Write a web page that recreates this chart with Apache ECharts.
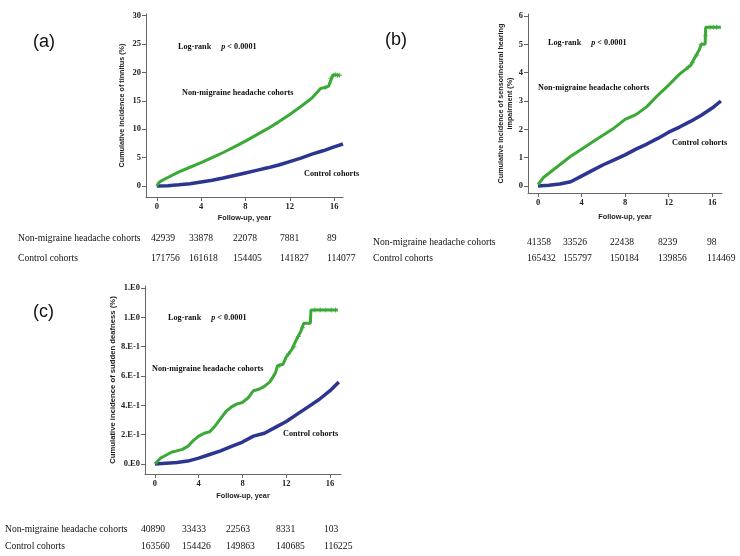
<!DOCTYPE html>
<html><head><meta charset="utf-8">
<script src="https://cdn.jsdelivr.net/npm/echarts@6/dist/echarts.min.js"></script>
<style>html,body{margin:0;padding:0;background:#fff}#c{width:740px;height:556px}</style>
</head><body><div id="c"></div>
<script>
// ---------- data ----------
const xTicks = [0, 4, 8, 12, 16];
// (a) tinnitus
const timeA_nm = [0,0.2,0.5,1,2,3,4,5,6,7,8,9,10,11,12,13,14,14.8,15.3,15.5,15.9,16,16.5];
const incA_nm  = [0,0.6,1.0,1.5,2.5,3.3,4.1,5.0,5.9,6.9,7.9,9.0,10.1,11.3,12.6,14.0,15.5,17.2,17.4,17.6,19.6,19.6,19.5];
const timeA_ct = [0,1,2,3,4,5,6,7,8,9,10,11,12,13,14,15,16,16.8];
const incA_ct  = [0,0.05,0.2,0.4,0.7,1.0,1.4,1.85,2.3,2.75,3.2,3.7,4.3,4.9,5.6,6.2,6.9,7.4];
const censA_t = [15.2,15.7,16.1,16.3,16.5];
const censA_v = [17.4,19.0,19.6,19.5,19.5];
const yTicksA = [0,5,10,15,20,25,30];
// (b) sensorineural hearing impairment
const timeB_nm = [0,0.5,1,2,3,4,5,6,7,8,9,10,11,12,13,14,14.5,14.8,15.0,15.35,15.4,16.8];
const incB_nm  = [0.05,0.3,0.45,0.75,1.05,1.3,1.55,1.8,2.05,2.35,2.52,2.8,3.2,3.56,3.95,4.25,4.6,4.8,5.0,5.0,5.6,5.6];
const timeB_ct = [0,1,2,3,4,5,6,7,8,9,10,11,12,13,14,15,16,16.8];
const incB_ct  = [0,0.03,0.07,0.15,0.35,0.55,0.75,0.92,1.1,1.3,1.48,1.68,1.9,2.08,2.28,2.5,2.75,3.0];
const censB_t = [13.8,14.2,14.6,15.0,15.4,15.8,16.1,16.4];
const censB_v = [4.2,4.35,4.62,5.0,5.3,5.6,5.6,5.6];
const yTicksB = [0,1,2,3,4,5,6];
// (c) sudden deafness
const timeC_nm = [0,0.5,1,1.5,2,2.5,3,3.5,4,4.5,5,5.5,6,6.5,7,7.5,8,8.5,9,9.5,10,10.5,11,11.2,11.7,12,12.5,13,13.3,13.6,14.2,14.25,16.7];
const incC_nm  = [0,0.04,0.06,0.08,0.09,0.10,0.12,0.16,0.19,0.21,0.22,0.26,0.31,0.36,0.39,0.41,0.42,0.45,0.50,0.51,0.53,0.56,0.62,0.67,0.68,0.73,0.78,0.86,0.90,0.96,0.96,1.05,1.05];
const timeC_ct = [0,1,2,3,4,5,6,7,8,9,10,11,12,13,14,15,16,16.8];
const incC_ct  = [0,0.005,0.01,0.02,0.04,0.065,0.09,0.12,0.15,0.19,0.21,0.25,0.29,0.34,0.39,0.44,0.50,0.56];
const censC_t = [11.4,12.2,12.7,13.1,13.5,14.6,15.1,15.6,16.1,16.5];
const censC_v = [0.67,0.75,0.80,0.87,0.93,1.05,1.05,1.05,1.05,1.05];
const yTicksC = [0,0.2,0.4,0.6,0.8,1.0,1.2];
const yLabelsC = ['0.E0','2.E-1','4.E-1','6.E-1','8.E-1','1.E0','1.E0'];
// numbers at risk
const riskRows = ['Non-migraine headache cohorts', 'Control cohorts'];
const riskA_nm = ['42939','33878','22078','7881','89'];
const riskA_ct = ['171756','161618','154405','141827','114077'];
const riskB_nm = ['41358','33526','22438','8239','98'];
const riskB_ct = ['165432','155797','150184','139856','114469'];
const riskC_nm = ['40890','33433','22563','8331','103'];
const riskC_ct = ['163560','154426','149863','140685','116225'];
const yTitles = ['Cumulative incidence of tinnitus (%)',
  'Cumulative incidence of sensorineural hearing\nimpairment (%)',
  'Cumulative incidence of sudden deafness (%)'];
const xTitle = 'Follow-up, year';

// ---------- style ----------
const GREEN = '#3aa935', BLUE = '#2c3590', AXIS = '#666';
const SERIF = '"Liberation Serif","Times New Roman",serif';
const SANS = '"Liberation Sans",Arial,sans-serif';
const zip = (a, b) => a.map((v, i) => [v, b[i]]);

function xAx(i, min, max, gap) {
  return {type:'value', gridIndex:i, min, max, name:xTitle, nameLocation:'middle', nameGap:gap,
    nameTextStyle:{fontFamily:SANS, fontWeight:'bold', fontSize:7.3, color:'#222'},
    axisLine:{show:true, onZero:false, lineStyle:{color:AXIS, width:1}},
    axisTick:{show:true, length:4, customValues:xTicks, lineStyle:{color:AXIS}},
    axisLabel:{customValues:xTicks, margin:5, fontFamily:SERIF, fontWeight:'bold', fontSize:8.5, color:'#222'},
    splitLine:{show:false}};
}
function yAx(i, min, max, ticks, gap, fs, fmt) {
  return {type:'value', gridIndex:i, min, max, name:yTitles[i], nameLocation:'middle', nameGap:gap,
    nameTextStyle:{fontFamily:SANS, fontWeight:'bold', fontSize:fs, color:'#222', lineHeight:9},
    axisLine:{show:true, onZero:false, lineStyle:{color:AXIS, width:1}},
    axisTick:{show:true, length:4, customValues:ticks, lineStyle:{color:AXIS}},
    axisLabel:{customValues:ticks, margin:5, fontFamily:SERIF, fontWeight:'bold', fontSize:8.5, color:'#222',
      formatter: fmt || (v => String(v))},
    splitLine:{show:false}};
}
function line(i, t, v, color, w) {
  return {type:'line', xAxisIndex:i, yAxisIndex:i, data:zip(t, v), showSymbol:false, symbol:'none',
    lineStyle:{color, width:w}, silent:true, animation:false, z:3};
}
const PLUS = 'path://M4,0h2v4h4v2h-4v4h-2v-4h-4v-2h4z';
function cens(i, t, v) {
  return {type:'scatter', xAxisIndex:i, yAxisIndex:i, data:zip(t, v), symbol:PLUS, symbolSize:5,
    itemStyle:{color:GREEN}, silent:true, animation:false, z:4};
}

// ---------- text ----------
const g = [];
function txt(x, y, text, font, extra) {
  g.push(Object.assign({type:'text', x, y, silent:true,
    style:Object.assign({text, font, fill:'#111', verticalAlign:'middle', align:'left'}, extra || {})}));
}
const annFont = 'bold 8.2px ' + SERIF;
function logrank(x, y) {
  g.push({type:'text', x, y, silent:true, style:{text:'{b|Log-rank}   {i|p}{b| < 0.0001}', verticalAlign:'middle',
    rich:{b:{fontFamily:SERIF, fontWeight:'bold', fontSize:8.2, fill:'#111'},
          i:{fontFamily:SERIF, fontWeight:'bold', fontStyle:'italic', fontSize:8.2, fill:'#111'}}}});
}
const panelFont = '18px ' + SANS;
txt(33, 42, '(a)', panelFont);
txt(385, 40, '(b)', panelFont);
txt(33, 312, '(c)', panelFont);
logrank(178, 47); txt(182, 93, 'Non-migraine headache cohorts', annFont); txt(304, 174, 'Control cohorts', annFont);
logrank(548, 43); txt(538, 88, 'Non-migraine headache cohorts', annFont); txt(672, 143, 'Control cohorts', annFont);
logrank(168, 318); txt(152, 369, 'Non-migraine headache cohorts', annFont); txt(283, 434, 'Control cohorts', annFont);

const tabFont = '9.6px ' + SERIF;
function table(lx, cols, y1, y2, nm, ct) {
  txt(lx, y1, riskRows[0], tabFont); txt(lx, y2, riskRows[1], tabFont);
  nm.forEach((s, k) => txt(cols[k], y1, s, tabFont));
  ct.forEach((s, k) => txt(cols[k], y2, s, tabFont));
}
table(18, [151,189,233,280,327], 238, 258, riskA_nm, riskA_ct);
table(373, [527,563,610,658,707], 242, 258, riskB_nm, riskB_ct);
table(5, [141,182,226,276,324], 529, 546, riskC_nm, riskC_ct);

const option = {
  backgroundColor:'#fff', animation:false,
  grid:[{left:146, top:14, width:197, height:183},
        {left:528, top:14, width:194, height:179},
        {left:145, top:286, width:196, height:188}],
  xAxis:[xAx(0, -0.97, 16.8, 17), xAx(1, -0.92, 16.9, 20), xAx(2, -0.91, 17.0, 18)],
  yAxis:[yAx(0, -1.94, 30.3, yTicksA, 19, 7.2),
         yAx(1, -0.247, 6.07, yTicksB, 10, 7.2),
         yAx(2, -0.068, 1.214, yTicksC, 28, 7.7, v => yLabelsC[yTicksC.findIndex(t => Math.abs(t - v) < 1e-6)] || '')],
  series:[
    line(0, timeA_ct, incA_ct, BLUE, 3.5), line(0, timeA_nm, incA_nm, GREEN, 3), cens(0, censA_t, censA_v),
    line(1, timeB_ct, incB_ct, BLUE, 3.5), line(1, timeB_nm, incB_nm, GREEN, 3), cens(1, censB_t, censB_v),
    line(2, timeC_ct, incC_ct, BLUE, 3.5), line(2, timeC_nm, incC_nm, GREEN, 3), cens(2, censC_t, censC_v)
  ],
  graphic:g
};
const chart = echarts.init(document.getElementById('c'), null, {renderer:'canvas'});
chart.setOption(option);
</script></body></html>
